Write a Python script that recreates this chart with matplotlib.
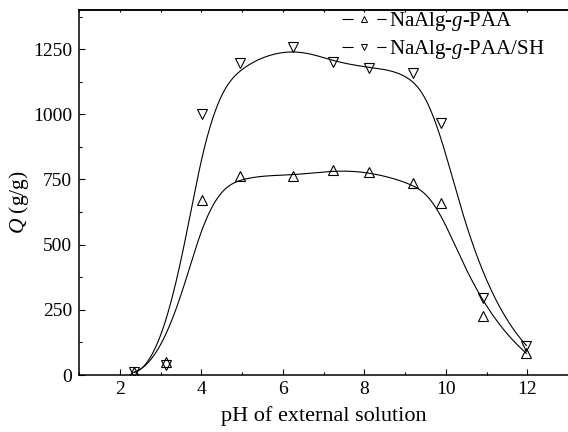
import numpy as np
import matplotlib
matplotlib.use("Agg")
import matplotlib.pyplot as plt
from matplotlib.lines import Line2D
from matplotlib.ticker import MultipleLocator

plt.rcParams['font.family'] = ['Liberation Serif', 'DejaVu Serif']
plt.rcParams['mathtext.fontset'] = 'custom'
plt.rcParams['mathtext.rm'] = 'Liberation Serif'
plt.rcParams['mathtext.it'] = 'Liberation Serif:italic'
plt.rcParams['lines.scale_dashes'] = False

# ---- data ----
ph = [2.35, 3.13, 4.03, 4.96, 6.26, 7.23, 8.11, 9.20, 9.88, 10.92, 11.98]
q_paa = [10, 50, 670, 765, 765, 785, 780, 735, 660, 228, 83]
q_paa_sh = [10, 38, 1000, 1196, 1259, 1202, 1179, 1160, 968, 295, 113]
labels = [r'NaAlg-$g$-PAA', r'NaAlg-$g$-PAA/SH']
xticks = [2, 4, 6, 8, 10, 12]
yticks = [0, 250, 500, 750, 1000, 1250]


def bspline(x, y, k=3, n=500):
    """Clamped cubic B-spline using data points as control points."""
    P = np.column_stack([x, y]).astype(float)
    m = len(P)
    knots = np.concatenate([np.zeros(k), np.linspace(0, 1, m - k + 1), np.ones(k)])
    t = np.linspace(0, 1 - 1e-9, n)
    nk = len(knots) - 1
    N = np.zeros((n, nk))
    for i in range(nk):
        N[:, i] = ((knots[i] <= t) & (t < knots[i + 1])).astype(float)
    for d in range(1, k + 1):
        Nn = np.zeros((n, nk - d))
        for i in range(nk - d):
            term = np.zeros(n)
            d1 = knots[i + d] - knots[i]
            d2 = knots[i + d + 1] - knots[i + 1]
            if d1 > 0:
                term += (t - knots[i]) / d1 * N[:, i]
            if d2 > 0:
                term += (knots[i + d + 1] - t) / d2 * N[:, i + 1]
            Nn[:, i] = term
        N = Nn
    C = N @ P
    C = np.vstack([C, P[-1]])
    return C[:, 0], C[:, 1]


fig = plt.figure(figsize=(5.68, 4.32), dpi=100)
ax = fig.add_axes([79 / 568, 57 / 432, 489 / 568, 365 / 432])

ms = 7.5
for q, mk in [(q_paa, '^'), (q_paa_sh, 'v')]:
    cx, cy = bspline(ph, q)
    ax.plot(cx, cy, color='black', lw=0.8)
    ax.plot(ph, q, linestyle='none', marker=mk, ms=ms, mfc='none',
            mec='black', mew=0.8)

ax.set_xlim(1, 13)
ax.set_ylim(0, 1400)
ax.set_xticks(xticks)
ax.set_yticks(yticks)
ax.xaxis.set_minor_locator(MultipleLocator(1))
ax.yaxis.set_minor_locator(MultipleLocator(125))
ax.tick_params(which='major', direction='in', length=4.5, width=0.8,
               labelsize=14, top=False, right=False)
ax.tick_params(which='minor', direction='in', length=2.2, width=0.8,
               top=False, right=False)
ax.tick_params(axis='x', which='major', pad=4)
ax.tick_params(axis='y', which='major', pad=5)

for s in ['left', 'bottom', 'top']:
    ax.spines[s].set_linewidth(1.1)
ax.spines['right'].set_visible(False)

ax2 = ax.secondary_xaxis('top')
ax2.set_xticks(range(1, 14))
ax2.set_xticklabels([])
ax2.tick_params(direction='in', length=1.5, width=0.8)
ax2.spines['top'].set_linewidth(1.1)

ax.set_xlabel('pH of external solution', fontsize=16)
ax.set_ylabel(r'$Q$ (g/g)', fontsize=15.5)
ax.xaxis.set_label_coords(0.5, -0.085)
ax.yaxis.set_label_coords(-0.098, 0.474)

handles = [Line2D([], [], color='black', lw=0.8, linestyle=(0, (8, 17)),
                  marker=m, ms=5, mfc='none', mec='black', mew=0.7)
           for m in ['^', 'v']]
fig.legend(handles, labels, loc='upper left',
           bbox_to_anchor=(342 / 568, 1 - 10 / 432), bbox_transform=fig.transFigure,
           frameon=False, fontsize=15, handlelength=2.1, handletextpad=0.15,
           borderpad=0, borderaxespad=0, labelspacing=0.25, numpoints=1)

fig.savefig('out.png', dpi=100)
